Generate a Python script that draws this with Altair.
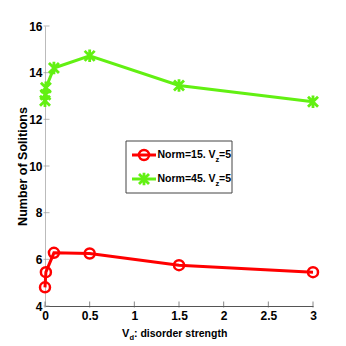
import altair as alt
import pandas as pd

# data
red_x = [0, 0.01, 0.1, 0.5, 1.5, 3]
red_y = [4.8, 5.45, 6.28, 6.25, 5.75, 5.45]
green_x = [0, 0.005, 0.01, 0.1, 0.5, 1.5, 3]
green_y = [12.8, 13.05, 13.35, 14.2, 14.72, 13.45, 12.75]
x_ticks = [0, 0.5, 1, 1.5, 2, 2.5, 3]
y_ticks = [4, 6, 8, 10, 12, 14, 16]

RED = "#ff0000"
GREEN = "#62f012"
FONT = "Liberation Sans"
W, H = 268, 280

red = pd.DataFrame({"x": red_x, "y": red_y})
green = pd.DataFrame({"x": green_x, "y": green_y})
xt = pd.DataFrame({"x": x_ticks})
yt = pd.DataFrame({"y": y_ticks})
one = pd.DataFrame({"k": [0]})

xs = alt.Scale(domain=[0, 3], nice=False, zero=False)
ys = alt.Scale(domain=[4, 16], nice=False, zero=False)

star = "M-1,-1L1,1M-1,1L1,-1M0,-1.25L0,1.25"

xaxis = alt.Axis(values=x_ticks, tickSize=0, grid=False, domainColor="#555555",
                 labelFont=FONT, labelFontWeight="bold", labelFontSize=12,
                 labelColor="#000", labelPadding=4, labelFlush=False, title=None,
                 format="~g")
yaxis = alt.Axis(values=y_ticks, tickSize=0, grid=False, domainColor="#bbbbbb",
                 labelFont=FONT, labelFontWeight="bold", labelFontSize=12,
                 labelColor="#000", labelPadding=3, labelFlush=False,
                 title="Number of Solitions", format="~g",
                 titleFont=FONT, titleFontWeight="bold", titleFontSize=12.5,
                 titleColor="#000", titleX=-23, titleY=140, titleAngle=270,
                 titleAlign="center", titleBaseline="middle")

base_r = alt.Chart(red).encode(x=alt.X("x:Q", scale=xs, axis=xaxis),
                               y=alt.Y("y:Q", scale=ys, axis=yaxis))
red_line = base_r.mark_line(color=RED, strokeWidth=3)
red_pts = base_r.mark_point(shape="circle", size=100, color=RED, strokeWidth=2.5,
                            filled=False, opacity=1)

base_g = alt.Chart(green).encode(x=alt.X("x:Q", scale=xs), y=alt.Y("y:Q", scale=ys))
green_line = base_g.mark_line(color=GREEN, strokeWidth=3)
green_pts = base_g.mark_point(shape=star, size=100, color=GREEN, strokeWidth=2.8,
                              filled=False, opacity=1)

xticks = alt.Chart(xt).mark_tick(color="#555555", thickness=1, size=6).encode(
    x=alt.X("x:Q", scale=xs), y=alt.value(H - 1.5))
yticks = alt.Chart(yt).mark_tick(color="#999999", thickness=1, size=6).encode(
    y=alt.Y("y:Q", scale=ys), x=alt.value(1.5))

# legend
legend_box = alt.Chart(one).mark_rect(fill="white", stroke="#444444", strokeWidth=1).encode(
    x=alt.value(81), x2=alt.value(187), y=alt.value(115), y2=alt.value(167))
leg_r_line = alt.Chart(one).mark_rule(color=RED, strokeWidth=3).encode(
    x=alt.value(87), x2=alt.value(111), y=alt.value(129))
leg_g_line = alt.Chart(one).mark_rule(color=GREEN, strokeWidth=3).encode(
    x=alt.value(87), x2=alt.value(111), y=alt.value(153))
leg_r_pt = alt.Chart(one).mark_point(shape="circle", size=100, color=RED, strokeWidth=2.5,
                                     filled=False, opacity=1).encode(
    x=alt.value(99), y=alt.value(129))
leg_g_pt = alt.Chart(one).mark_point(shape=star, size=100, color=GREEN, strokeWidth=2.8,
                                     filled=False, opacity=1).encode(
    x=alt.value(99), y=alt.value(153))

def txt(s, x, y, size=10.5):
    return alt.Chart(one).mark_text(text=s, font=FONT, fontWeight="bold", fontSize=size,
                                    align="left", baseline="middle", color="#000").encode(
        x=alt.value(x), y=alt.value(y))

texts = [
    txt("Norm=15. V", 112.5, 129), txt("z", 170.5, 133.5, 7.5), txt("=5", 174, 129),
    txt("Norm=45. V", 112.5, 153), txt("z", 170.5, 157.5, 7.5), txt("=5", 174, 153),
    txt("V", 77, 307.5, 11), txt("d", 84.5, 311.5, 7.5), txt(": disorder strength", 89, 307.5, 10.5),
]

chart = alt.layer(
    red_line, green_line, xticks, yticks, red_pts, green_pts,
    legend_box, leg_r_line, leg_g_line, leg_r_pt, leg_g_pt, *texts
).properties(
    width=W, height=H,
    autosize=alt.AutoSizeParams(type="none"),
    padding={"left": 37, "top": 18, "right": 25, "bottom": 40},
).configure_view(stroke=None)

chart.save("out.html", embed_options={"renderer": "svg", "actions": False})
